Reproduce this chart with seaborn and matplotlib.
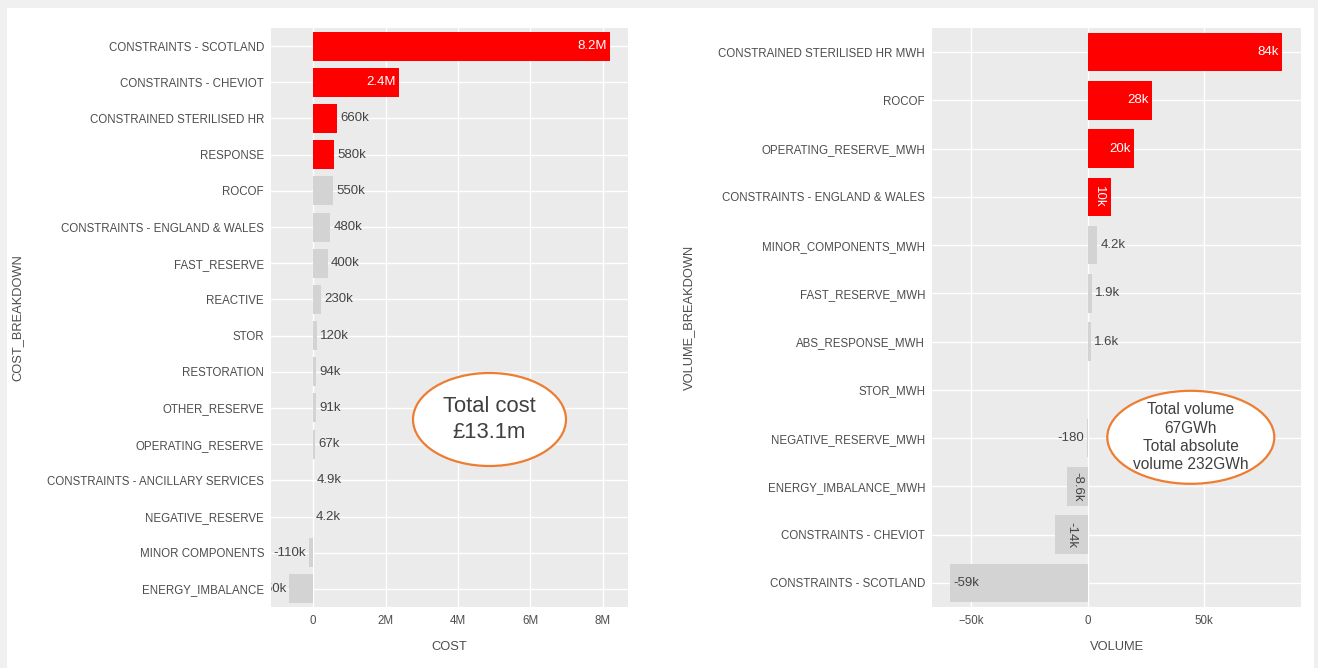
import matplotlib
matplotlib.use("Agg")
import matplotlib.pyplot as plt
import seaborn as sns
import pandas as pd
from matplotlib.patches import Ellipse, Rectangle

# ---------------- data ----------------
cost_categories = [
    "CONSTRAINTS - SCOTLAND", "CONSTRAINTS - CHEVIOT", "CONSTRAINED STERILISED HR",
    "RESPONSE", "ROCOF", "CONSTRAINTS - ENGLAND & WALES", "FAST_RESERVE", "REACTIVE",
    "STOR", "RESTORATION", "OTHER_RESERVE", "OPERATING_RESERVE",
    "CONSTRAINTS - ANCILLARY SERVICES", "NEGATIVE_RESERVE", "MINOR COMPONENTS",
    "ENERGY_IMBALANCE",
]
cost_values = [8.19e6, 2.37e6, 660e3, 580e3, 550e3, 480e3, 400e3, 230e3,
               120e3, 94e3, 91e3, 67e3, 4.9e3, 4.2e3, -110e3, -650e3]
cost_labels = ["8.2M", "2.4M", "660k", "580k", "550k", "480k", "400k", "230k",
               "120k", "94k", "91k", "67k", "4.9k", "4.2k", "-110k", "-650k"]
cost_highlight = [True, True, True, True] + [False] * 12
cost_ticks = [0, 2e6, 4e6, 6e6, 8e6]
cost_tick_labels = ["0", "2M", "4M", "6M", "8M"]

vol_categories = [
    "CONSTRAINED STERILISED HR MWH", "ROCOF", "OPERATING_RESERVE_MWH",
    "CONSTRAINTS - ENGLAND & WALES", "MINOR_COMPONENTS_MWH", "FAST_RESERVE_MWH",
    "ABS_RESPONSE_MWH", "STOR_MWH", "NEGATIVE_RESERVE_MWH", "ENERGY_IMBALANCE_MWH",
    "CONSTRAINTS - CHEVIOT", "CONSTRAINTS - SCOTLAND",
]
vol_values = [83600, 27600, 19800, 10200, 4200, 1900, 1600, 0, -180, -8600, -14000, -59000]
vol_labels = ["84k", "28k", "20k", "10k", "4.2k", "1.9k", "1.6k", "", "-180", "-8.6k", "-14k", "-59k"]
vol_highlight = [True, True, True, True] + [False] * 8
vol_ticks = [-50000, 0, 50000]
vol_tick_labels = ["\u221250k", "0", "50k"]

cost_note = "Total cost\n£13.1m"
vol_note = "Total volume\n67GWh\nTotal absolute\nvolume 232GWh"

# ---------------- style ----------------
W, H = 1318, 668
DPI = 100
RED = "#FF0000"
GREY = "#D3D3D3"
TXT = "#4D4D4D"
FS = 8.3      # tick labels
VFS = 9.5     # value labels

sns.set_style("white", {"axes.facecolor": "#EBEBEB", "grid.color": "white"})
plt.rcParams["font.family"] = ["Liberation Sans", "DejaVu Sans"]

fig = plt.figure(figsize=(W / DPI, H / DPI), dpi=DPI, facecolor="#F0F0F0")
fig.add_artist(Rectangle((7 / W, 0), (1314 - 7) / W, 1 - 8 / H,
                         transform=fig.transFigure, facecolor="white",
                         edgecolor="none", zorder=-10))


def px_axes(x0, x1, y0, y1):
    return fig.add_axes([x0 / W, 1 - y1 / H, (x1 - x0) / W, (y1 - y0) / H])


def draw(ax, cats, vals, labels, highlight, ticks, tick_labels, xlim, xname, yname, ylab_x):
    df = pd.DataFrame({yname: cats, xname: vals})
    pal = {c: (RED if h else GREY) for c, h in zip(cats, highlight)}
    sns.barplot(data=df, x=xname, y=yname, hue=yname, palette=pal, legend=False,
                orient="h", width=0.8, saturation=1, linewidth=0, ax=ax)
    ax.set_xlim(*xlim)
    ax.set_ylim(len(cats) - 0.5, -0.5)
    ax.set_xticks(ticks)
    ax.set_xticklabels(tick_labels)
    ax.grid(True, axis="both", color="white", linewidth=1.0)
    ax.set_axisbelow(True)
    for s in ax.spines.values():
        s.set_visible(False)
    ax.tick_params(axis="both", which="major", length=3, width=0.8, color="#333333",
                   labelcolor=TXT, labelsize=FS, pad=2)
    ax.tick_params(axis="x", pad=3)
    ax.set_xlabel(xname, fontsize=9.3, color=TXT)
    ax.set_ylabel(yname, fontsize=9.3, color=TXT)
    hpx = ax.get_window_extent().height
    wpx = ax.get_window_extent().width
    ax.xaxis.label.set_va("center")
    ax.xaxis.set_label_coords(0.5, -40 / hpx)
    ax.yaxis.label.set_va("center")
    ax.yaxis.label.set_ha("center")
    ax.yaxis.set_label_coords(ylab_x / wpx, 0.5)

    # value labels, plotly-like auto placement (text outside the plot area is clipped)
    renderer = fig.canvas.get_renderer()
    pad = 3
    th = 0.75 * VFS / 72 * DPI
    row_px = hpx / len(cats)
    ly = 0.8 * row_px
    for i, (v, lab, h) in enumerate(zip(vals, labels, highlight)):
        if not lab:
            continue
        t = ax.text(0, 0, lab, fontsize=VFS)
        tw = t.get_window_extent(renderer).width
        t.remove()
        x0 = ax.transData.transform((0, i))[0]
        x1 = ax.transData.transform((v, i))[0]
        lx = abs(x1 - x0)
        sgn = 1 if v >= 0 else -1
        inner_col = "white" if h else "#444444"
        if tw * 1.6 <= lx - 2 * pad and th <= ly - 2 * pad:
            xp = x1 - sgn * pad
            xd = ax.transData.inverted().transform((xp, 0))[0]
            ax.text(xd, i, lab, fontsize=VFS, color=inner_col,
                    ha="right" if v >= 0 else "left", va="center", clip_on=True)
        elif tw <= ly - 2 * pad and th <= lx - 2 * pad:
            ax.text(v / 2, i, lab, fontsize=VFS, color=inner_col, rotation=-90,
                    ha="center", va="center", clip_on=True)
        else:
            xp = x1 + sgn * pad
            xd = ax.transData.inverted().transform((xp, 0))[0]
            ax.text(xd, i, lab, fontsize=VFS, color="#444444",
                    ha="left" if v >= 0 else "right", va="center", clip_on=True)


ax1 = px_axes(271, 628, 28, 607)
draw(ax1, cost_categories, cost_values, cost_labels, cost_highlight,
     cost_ticks, cost_tick_labels, (-1.159e6, 8.69e6), "COST", "COST_BREAKDOWN", 17 - 271)

ax2 = px_axes(932, 1301, 28, 607)
draw(ax2, vol_categories, vol_values, vol_labels, vol_highlight,
     vol_ticks, vol_tick_labels, (-66800, 91700), "VOLUME", "VOLUME_BREAKDOWN", 689 - 932)


def note(cx, cy, w, h, text, fs, ls):
    fig.add_artist(Ellipse((cx / W, 1 - cy / H), w / W, h / H, transform=fig.transFigure,
                           facecolor="white", edgecolor="#ED7D31", linewidth=1.6, zorder=5))
    fig.text(cx / W, 1 - cy / H, text, ha="center", va="center", fontsize=fs,
             color="#404040", linespacing=ls, zorder=6, family="Liberation Sans")


note(489.5, 419.5, 153, 93, cost_note, 15.8, 1.29)
note(1190.8, 437.3, 167, 93, vol_note, 11.2, 1.27)

fig.savefig("out.png", dpi=DPI, facecolor=fig.get_facecolor())
